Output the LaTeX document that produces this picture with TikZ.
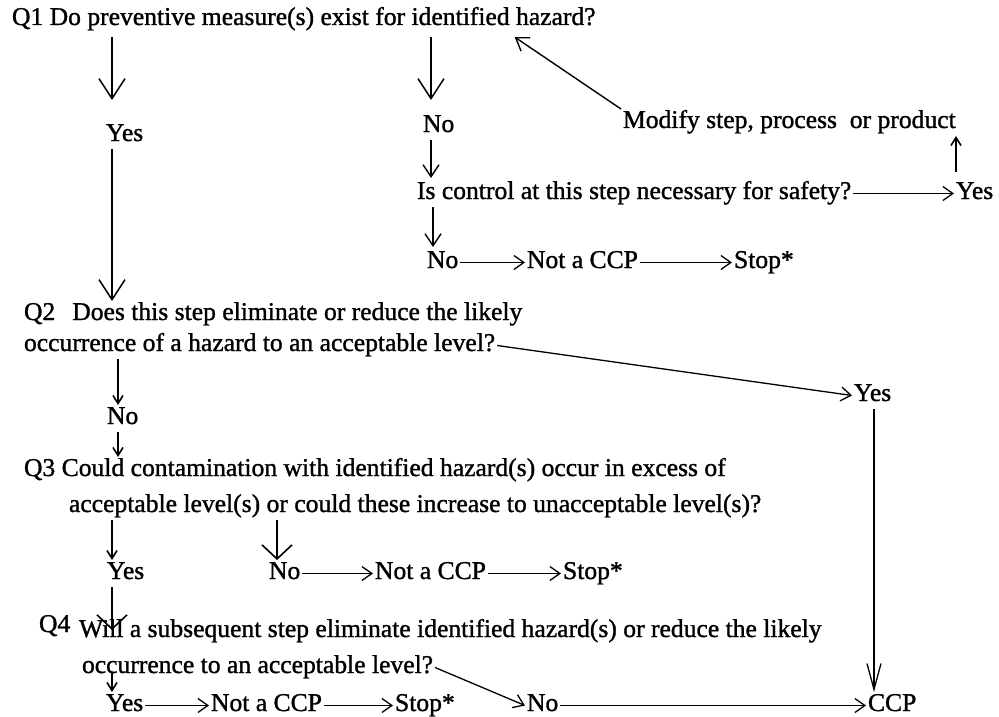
\documentclass[tikz,border=0pt]{standalone}
\usepackage{fontspec}
\setmainfont[FakeBold=1.2]{Liberation Serif}
\usetikzlibrary{arrows.meta}
\begin{document}
\begin{tikzpicture}[x=1pt,y=-1pt,
  txt/.style={anchor=base west,inner sep=0pt,outer sep=2pt,text height=17pt,text depth=6pt,font=\fontsize{25.6}{30}\selectfont},
  arr/.style={-{Straight Barb[length=10pt,width=14pt]},line width=1.3pt},
  midarr/.style={-{Straight Barb[length=12pt,width=16pt]},line width=1.4pt},
  smallarr/.style={-{Straight Barb[length=8pt,width=10pt]},line width=1.6pt},
  bigarr/.style={-{Straight Barb[length=20pt,width=26pt]},line width=1.5pt},
  widearr/.style={-{Straight Barb[length=14pt,width=30pt]},line width=1.6pt},
  longarr/.style={-{Straight Barb[length=26pt,width=14pt]},line width=1.3pt}]
\useasboundingbox[fill=white] (0,0) rectangle (999,717);
% texts
\node[txt] (q1) at (10,25) {Q1 Do preventive measure(s) exist for identified hazard?};
\node[txt] (yes1) at (104,141) {Yes};
\node[txt] (no1) at (421,132) {No};
\node[txt] (mod) at (621,128) {Modify step, process\ \ or product};
\node[txt] (ctl) at (415,199) {Is control at this step necessary for safety?};
\node[txt] (yes2) at (954,199) {Yes};
\node[txt] (no2) at (425,268) {No};
\node[txt] (nc1) at (525,268) {Not a CCP};
\node[txt] (st1) at (732,268) {Stop*};
\node[txt] (q2a) at (22,320) {Q2\hspace{17pt}Does this step eliminate or reduce the likely};
\node[txt] (q2b) at (22,351) {occurrence of a hazard to an acceptable level?};
\node[txt] (yes3) at (852,401) {Yes};
\node[txt] (no3) at (105,424) {No};
\node[txt] (q3a) at (22,476) {Q3 Could contamination with identified hazard(s) occur in excess of};
\node[txt] (q3b) at (67,512) {acceptable level(s) or could these increase to unacceptable level(s)?};
\node[txt] (yes4) at (105,579) {Yes};
\node[txt] (no4) at (267,579) {No};
\node[txt] (nc2) at (373,579) {Not a CCP};
\node[txt] (st2) at (561,579) {Stop*};
\node[txt] (q4) at (37,632) {Q4};
\node[txt] (q4a) at (77,637) {Will a subsequent step eliminate identified hazard(s) or reduce the likely};
\node[txt] (q4b) at (80,673) {occurrence to an acceptable level?};
\node[txt] (yes5) at (104,711) {Yes};
\node[txt] (nc3) at (209,711) {Not a CCP};
\node[txt] (st3) at (393,711) {Stop*};
\node[txt] (no5) at (525,711) {No};
\node[txt] (ccp) at (866,711) {CCP};
% connectors
\draw[bigarr,shorten >=22pt,shorten <=4pt] ([xshift=8pt]yes1.north west |- q1.south) -- ([xshift=8pt]yes1.north west);
\draw[bigarr,shorten >=13pt,shorten <=4pt] ([xshift=10pt]no1.north west |- q1.south) -- ([xshift=10pt]no1.north west);
\draw[midarr] (mod.north west) -- ([xshift=-83pt,yshift=-4pt]q1.south east);
\draw[midarr,shorten >=2pt] ([xshift=10pt]no1.south west) -- ([xshift=16pt]ctl.north west);
\draw[arr] (ctl.east) -- (yes2.west);
\draw[smallarr,shorten <=8pt] ([xshift=2pt]yes2.north west) -- ([xshift=2pt]yes2.north west |- mod.south);
\draw[midarr,shorten >=2pt] ([xshift=18pt]ctl.south west) -- ([xshift=8pt]no2.north west);
\draw[arr] (no2.east) -- (nc1.west);
\draw[arr] (nc1.east) -- (st1.west);
\draw[bigarr] ([xshift=8pt]yes1.south west) -- ([xshift=8pt]yes1.south west |- q2a.north);
\draw[arr] (q2b.east) -- (yes3.west);
\draw[smallarr] ([xshift=13pt]no3.north west |- q2b.south) -- ([xshift=13pt]no3.north west);
\draw[smallarr] ([xshift=13pt]no3.south west) -- ([xshift=13pt]no3.south west |- q3a.north);
\draw[smallarr] ([xshift=7pt]yes4.north west |- q3b.south) -- ([xshift=7pt]yes4.north west);
\draw[widearr] ([xshift=10pt]no4.north west |- q3b.south) -- ([xshift=10pt]no4.north west);
\draw[arr] (no4.east) -- (nc2.west);
\draw[arr] (nc2.east) -- (st2.west);
\draw[widearr,shorten >=-12pt] ([xshift=7pt]yes4.south west) -- ([xshift=7pt]yes4.south west |- q4a.north);
\draw[smallarr] ([xshift=8pt]yes5.north west |- q4b.base) -- ([xshift=8pt]yes5.north west);
\draw[arr] (yes5.east) -- (nc3.west);
\draw[arr] (nc3.east) -- (st3.west);
\draw[arr] (q4b.east) -- (no5.west);
\draw[arr] (no5.east) -- (ccp.west);
\draw[longarr] ([xshift=8pt]ccp.north west |- yes3.south) -- ([xshift=8pt]ccp.north west);
\end{tikzpicture}
\end{document}
